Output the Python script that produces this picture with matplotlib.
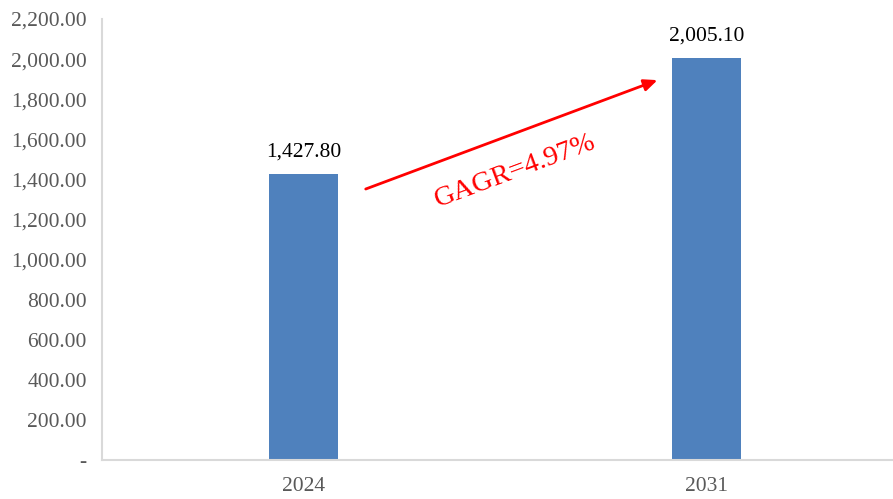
import matplotlib.pyplot as plt
from matplotlib.ticker import FuncFormatter

years = ["2024", "2031"]
values = [1427.80, 2005.10]
cagr_label = "GAGR=4.97%"

plt.rcParams['font.family'] = ['Liberation Serif', 'DejaVu Serif']

fig = plt.figure(figsize=(8.93, 4.99), dpi=100)
ax = fig.add_axes([102 / 893, 39 / 499, 791 / 893, 441 / 499])

x = list(range(len(years)))
ax.bar(x, values, width=0.17, color='#4f81bd', zorder=2)

for xi, v in zip(x, values):
    ax.annotate(f"{v:,.2f}", (xi, v), xytext=(0, 9), textcoords='offset points',
                ha='center', va='bottom', fontsize=15.5, color='black')

ax.set_xlim(-0.5, 1.463)
ax.set_ylim(0, 2200)
ax.set_yticks(range(0, 2201, 200))
ax.yaxis.set_major_formatter(FuncFormatter(lambda v, p: "-" if v == 0 else f"{v:,.2f}"))
ax.set_xticks(x)
ax.set_xticklabels(years)
ax.tick_params(axis='both', length=0, labelsize=15.5, labelcolor='#595959')
ax.tick_params(axis='x', pad=12)
ax.tick_params(axis='y', pad=11)

for s in ['top', 'right']:
    ax.spines[s].set_visible(False)
for s in ['left', 'bottom']:
    ax.spines[s].set_color('#d9d9d9')
    ax.spines[s].set_linewidth(1.5)

# growth arrow
ax.annotate("", xy=(0.885, 1900), xytext=(0.148, 1347),
            arrowprops=dict(arrowstyle='-|>,head_length=0.8,head_width=0.35',
                            color='red', lw=2))
ax.text(0.525, 1440, cagr_label, color='red', fontsize=20.5, rotation=20.5,
        ha='center', va='center')

fig.savefig("out.png", dpi=100)
